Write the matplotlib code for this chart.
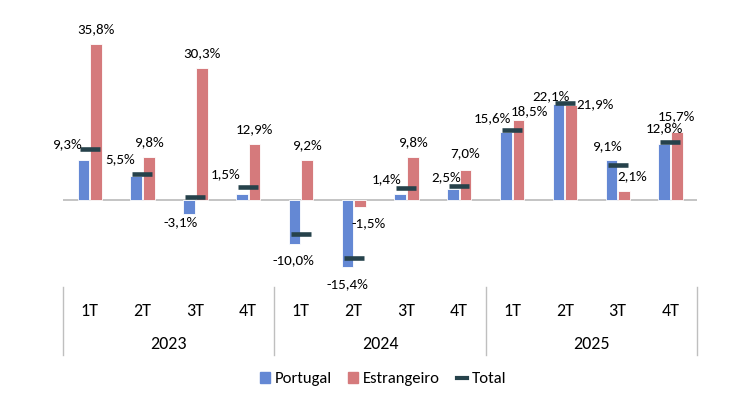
import numpy as np
import matplotlib
matplotlib.use("Agg")
import matplotlib.pyplot as plt
from matplotlib.lines import Line2D
from matplotlib.patches import Patch

plt.rcParams['font.family'] = ['Carlito', 'Liberation Sans Narrow', 'DejaVu Sans']

quarters = ["1T", "2T", "3T", "4T"] * 3
years = ["2023", "2024", "2025"]
portugal = [9.3, 5.5, -3.1, 1.5, -10.0, -15.4, 1.4, 2.5, 15.6, 22.1, 9.1, 12.8]
estrangeiro = [35.8, 9.8, 30.3, 12.9, 9.2, -1.5, 9.8, 7.0, 18.5, 21.9, 2.1, 15.7]
total = [11.8, 6.1, 0.8, 2.9, -7.8, -13.4, 2.7, 3.2, 16.1, 22.2, 8.0, 13.3]

# label offsets in pixels (dx, dy up)
pt_off = [(-17, 15), (-16, 17), (-8, -9), (-16, 19), (-1, -17), (0, -17),
          (-14, 15), (-7, 12), (-13, 14), (-8, 8), (-4, 14), (0, 16)]
es_off = [(0, 15), (0, 15), (0, 15), (0, 15), (0, 15), (9, -17),
          (0, 15), (0, 16), (11, 8), (24, 1), (8, 15), (0, 16)]

c_pt = "#6488D4"
c_es = "#D57A7C"
c_tot = "#26424B"

def fmt(v):
    return f"{v:.1f}".replace(".", ",") + "%"

W, H = 754, 412
fig = plt.figure(figsize=(W / 100, H / 100), dpi=100)
ax = fig.add_axes([63.3 / W, (H - 287) / H, 633.4 / W, 267 / H])

x = np.arange(len(portugal)) + 0.5
bw = 0.22
xp = x - 0.117
xe = x + 0.122
ax.bar(xp, portugal, bw, color=c_pt, edgecolor="white", linewidth=0.6, zorder=2)
ax.bar(xe, estrangeiro, bw, color=c_es, edgecolor="white", linewidth=0.6, zorder=2)
ax.plot(x, total, linestyle="none", marker="_", markersize=14.4,
        markeredgewidth=3.3, color=c_tot, zorder=3)

ax.axhline(0, color="#BFBFBF", linewidth=1.3, zorder=1)
ax.set_xlim(0, 12)
ax.set_ylim(-20, 41.4)
ax.axis("off")

for i in range(len(portugal)):
    ax.annotate(fmt(portugal[i]), (xp[i], portugal[i]), xytext=pt_off[i],
                textcoords="offset pixels", ha="center", va="center", fontsize=10.8)
    ax.annotate(fmt(estrangeiro[i]), (xe[i], estrangeiro[i]), xytext=es_off[i],
                textcoords="offset pixels", ha="center", va="center", fontsize=10.8)

# category axis
for i, q in enumerate(quarters):
    ax.annotate(q, (x[i], 0), xycoords=("data", "axes fraction"), xytext=(0, -24),
                textcoords="offset pixels", ha="center", va="center", fontsize=13)
for j, yr in enumerate(years):
    ax.annotate(yr, (4 * j + 2, 0), xycoords=("data", "axes fraction"), xytext=(0, -57),
                textcoords="offset pixels", ha="center", va="center", fontsize=13)
for k in range(4):
    ax.plot([4 * k, 4 * k], [0, -68 / 267], transform=ax.get_xaxis_transform(),
            color="#BFBFBF", linewidth=1, clip_on=False)

handles = [Patch(color=c_pt), Patch(color=c_es),
           Line2D([0], [0], color=c_tot, linewidth=3)]
fig.legend(handles, ["Portugal", "Estrangeiro", "Total"], ncol=3, loc="center",
           bbox_to_anchor=(383 / W, 1 - 379 / H), frameon=False, fontsize=12,
           handlelength=0.6, handleheight=0.6, handletextpad=0.3, columnspacing=1.0)

fig.savefig("out.png", dpi=100)
